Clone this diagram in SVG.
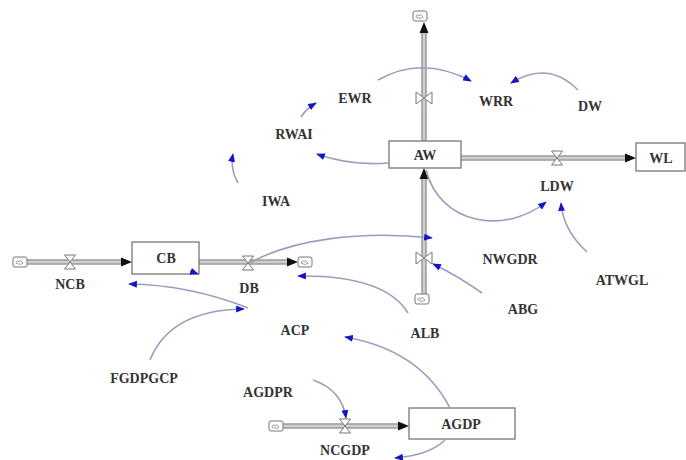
<svg xmlns="http://www.w3.org/2000/svg" width="686" height="460" viewBox="0 0 686 460">
  <style>
    text { font-family: "Liberation Serif", "Times New Roman", serif; font-weight: bold; font-size: 14px; fill: #333; text-anchor: middle; dominant-baseline: central; }
    .stock { fill: #fff; stroke: #777; stroke-width: 1.3; }
    .pipeo { fill: none; stroke: #9a9a9a; stroke-width: 5.5; }
    .pipei { fill: none; stroke: #cfcfcf; stroke-width: 2.5; }
    .valve { fill: #fff; stroke: #777; stroke-width: 1; }
    .cloud { fill: #fff; stroke: #777; stroke-width: 1; }
    .link { fill: none; stroke: #9c9cbc; stroke-width: 1.6; marker-end: url(#blue); }
  </style>
  <defs>
    <marker id="blue" viewBox="0 0 10 8" refX="9" refY="4" markerWidth="9" markerHeight="7" markerUnits="userSpaceOnUse" orient="auto">
      <path d="M0,0 L10,4 L0,8 Z" fill="#1414c8"/>
    </marker>
    <path id="head" d="M0,0 L-11,-4.5 L-11,4.5 Z" fill="#111"/>
    <g id="cloudshape">
      <rect class="cloud" x="-7" y="-5" width="14" height="10" rx="2"/>
      <path d="M-4,1 q1,-4 3,-1 q2,-3 3,0 q2,1 0,2 q-3,1 -6,-1" fill="none" stroke="#888" stroke-width="0.8"/>
    </g>
    <path id="hourglass" class="valve" d="M-5.5,-7 L5.5,-7 L-5.5,7 L5.5,7 Z"/>
    <path id="bowtie" class="valve" d="M-8,-6 L-8,6 L8,-6 L8,6 Z"/>
  </defs>

  <!-- material pipes -->
  <g id="pipes">
    <path class="pipeo" d="M27,262 H121 M199,262 H288 M424,294 V179 M424,141 V33 M461,158 H625 M283,426 H398"/>
    <path class="pipei" d="M27,262 H121 M199,262 H288 M424,294 V179 M424,141 V33 M461,158 H625 M283,426 H398"/>
    <use href="#head" transform="translate(132,262)"/>
    <use href="#head" transform="translate(298,262)"/>
    <use href="#head" transform="translate(424,168) rotate(-90)"/>
    <use href="#head" transform="translate(424,22) rotate(-90)"/>
    <use href="#head" transform="translate(636,158)"/>
    <use href="#head" transform="translate(409,426)"/>
  </g>

  <!-- sources and sinks -->
  <g id="clouds">
    <use href="#cloudshape" transform="translate(20,262)"/>
    <use href="#cloudshape" transform="translate(305,262)"/>
    <use href="#cloudshape" transform="translate(420,16)"/>
    <use href="#cloudshape" transform="translate(422,299)"/>
    <use href="#cloudshape" transform="translate(276,426)"/>
  </g>

  <!-- stocks -->
  <g id="CB"><rect class="stock" x="132" y="242" width="67" height="32"/><text x="166" y="258">CB</text></g>
  <g id="AW"><rect class="stock" x="389" y="141" width="72" height="27"/><text x="425" y="155">AW</text></g>
  <g id="WL"><rect class="stock" x="636" y="143" width="49" height="28"/><text x="661" y="158">WL</text></g>
  <g id="AGDP"><rect class="stock" x="409" y="408" width="106" height="31"/><text x="461" y="424">AGDP</text></g>

  <!-- flows -->
  <g id="NCB"><use href="#hourglass" transform="translate(70,262)"/><text x="70" y="284">NCB</text></g>
  <g id="DB"><use href="#hourglass" transform="translate(248,263)"/><text x="249" y="288">DB</text></g>
  <g id="EWR"><use href="#bowtie" transform="translate(424,98)"/><text x="355" y="98">EWR</text></g>
  <g id="NWGDR"><use href="#bowtie" transform="translate(424,258)"/><text x="510" y="259">NWGDR</text></g>
  <g id="LDW"><use href="#hourglass" transform="translate(557,158)"/><text x="557" y="186">LDW</text></g>
  <g id="NCGDP"><use href="#hourglass" transform="translate(345,426)"/><text x="345" y="450">NCGDP</text></g>

  <!-- auxiliaries -->
  <g id="WRR"><text x="496" y="101">WRR</text></g>
  <g id="DW"><text x="590" y="106">DW</text></g>
  <g id="RWAI"><text x="294" y="134">RWAI</text></g>
  <g id="IWA"><text x="276" y="201">IWA</text></g>
  <g id="ATWGL"><text x="622" y="280">ATWGL</text></g>
  <g id="ABG"><text x="523" y="309">ABG</text></g>
  <g id="ALB"><text x="425" y="333">ALB</text></g>
  <g id="ACP"><text x="295" y="330">ACP</text></g>
  <g id="FGDPGCP"><text x="144" y="378">FGDPGCP</text></g>
  <g id="AGDPR"><text x="268" y="392">AGDPR</text></g>

  <!-- information links -->
  <g id="connectors">
    <path class="link" d="M378,80 Q422,55 471,81"/>
    <path class="link" d="M578,90 Q548,60 511,83"/>
    <path class="link" d="M389,163 Q350,166 317,154"/>
    <path class="link" d="M301,117 Q306,109 316,103"/>
    <path class="link" d="M238,183 Q230,170 233,154"/>
    <path class="link" d="M426,170 C440,225 505,235 546,202"/>
    <path class="link" d="M587,252 Q563,230 561,203"/>
    <path class="link" d="M482,293 Q458,276 433,264"/>
    <path class="link" d="M250,263 C290,240 360,230 432,238"/>
    <path class="link" d="M408,313 Q385,275 298,276"/>
    <path class="link" d="M248,308 Q190,285 129,284"/>
    <path class="link" d="M150,360 Q170,310 244,309"/>
    <path class="link" d="M450,408 Q420,350 345,337"/>
    <path class="link" d="M313,380 Q342,390 346,418"/>
    <path class="link" d="M445,440 Q430,455 395,458"/>
    <path class="link" d="M190,271 L198,274"/>
  </g>
</svg>
